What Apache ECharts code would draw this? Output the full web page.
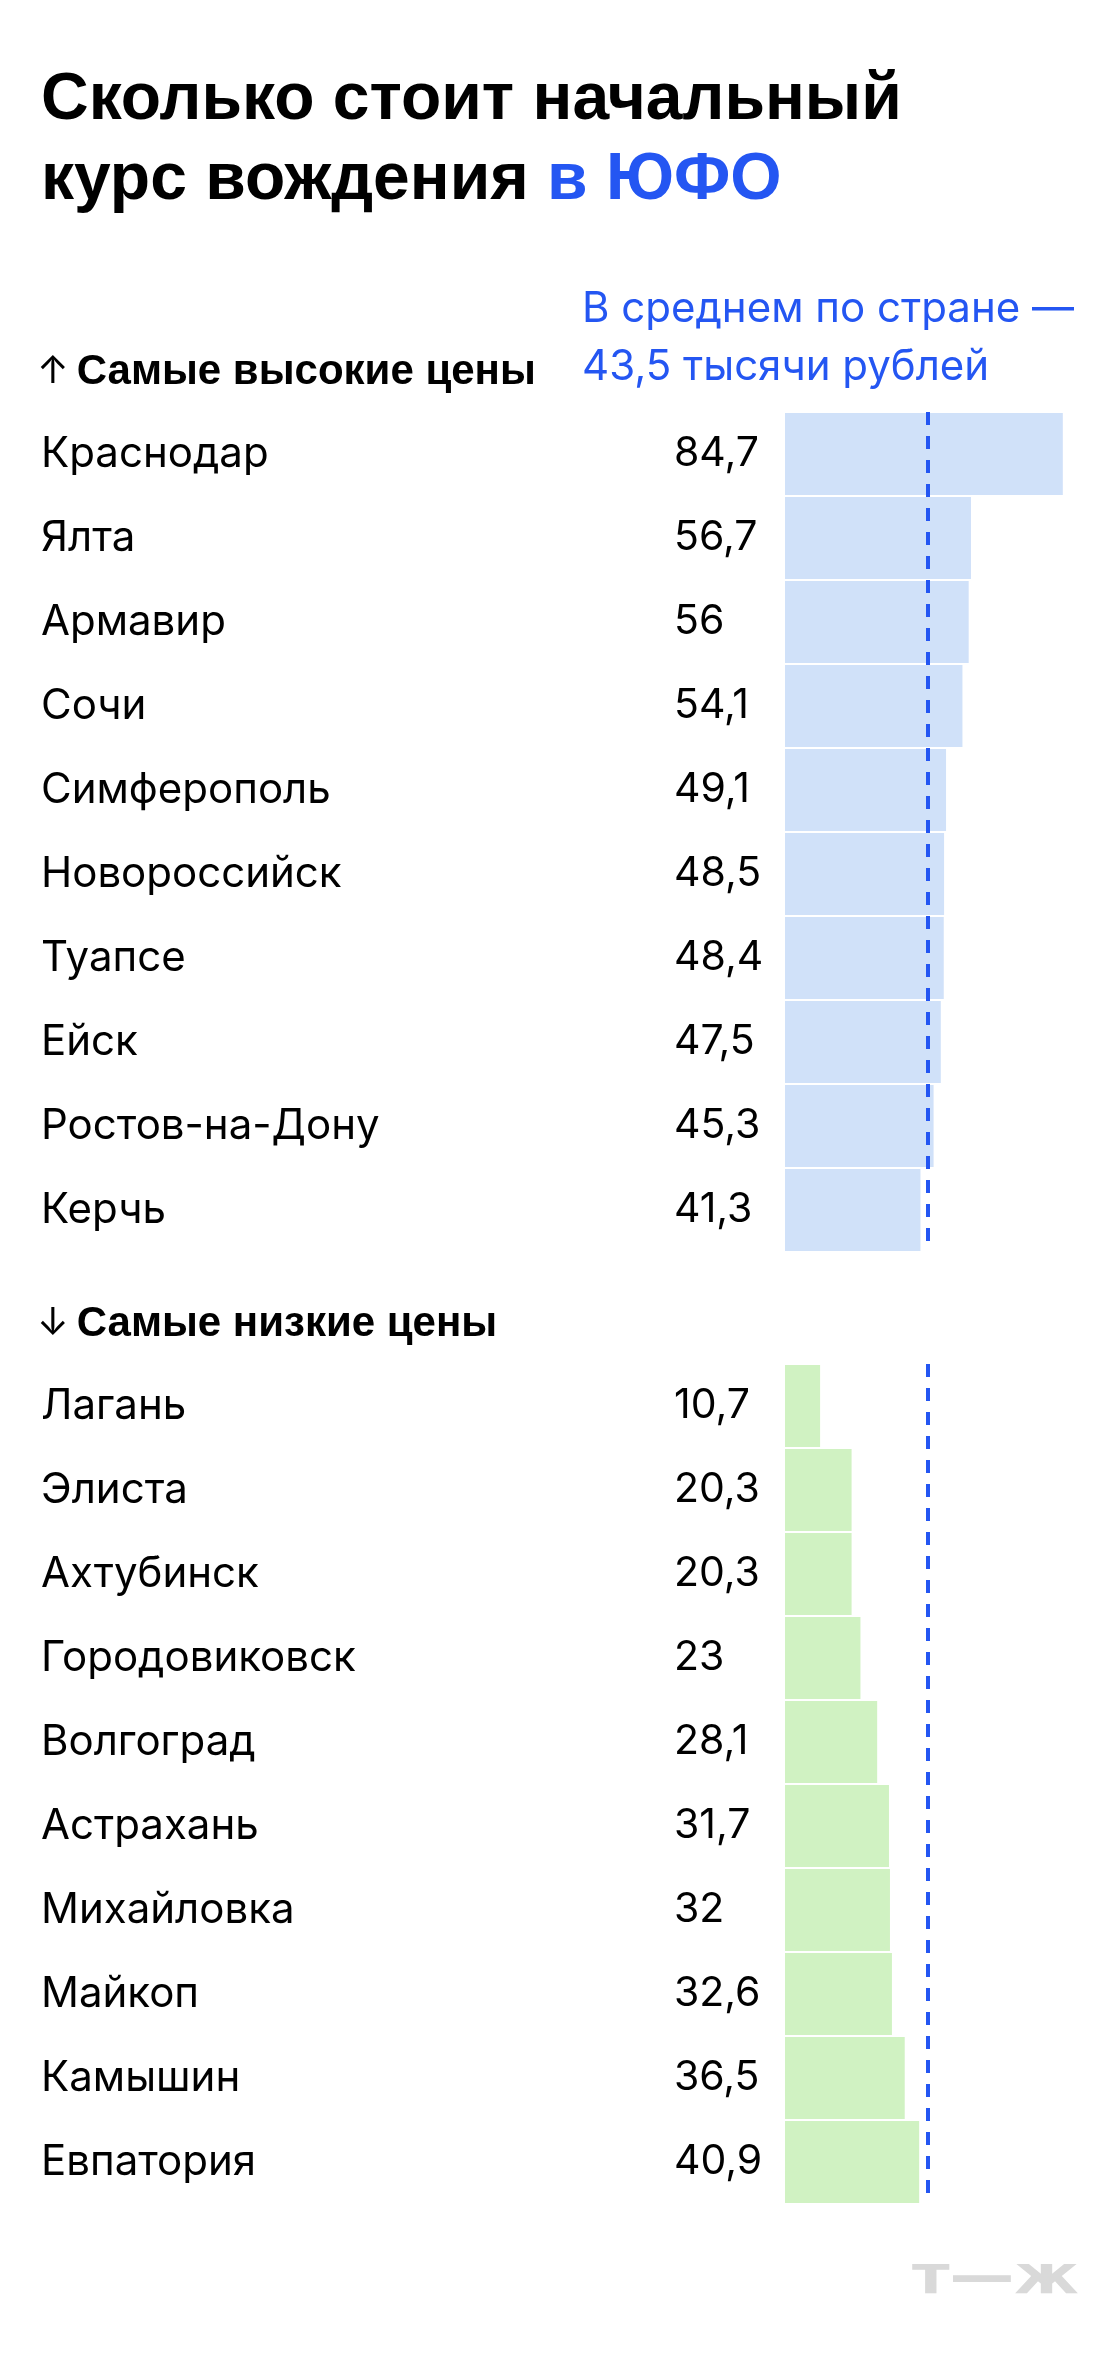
<!DOCTYPE html>
<html>
<head>
<meta charset="utf-8">
<script src="https://cdn.jsdelivr.net/npm/echarts@6/dist/echarts.min.js"></script>
<style>
  html, body { margin: 0; padding: 0; background: #fff; }
  #chart { width: 1120px; height: 2372px; }
</style>
</head>
<body>
<div id="chart"></div>
<script>
// самые высокие цены, тыс. руб.
var highCities = ['Краснодар', 'Ялта', 'Армавир', 'Сочи', 'Симферополь', 'Новороссийск', 'Туапсе', 'Ейск', 'Ростов-на-Дону', 'Керчь'];
var highPrices = [84.7, 56.7, 56, 54.1, 49.1, 48.5, 48.4, 47.5, 45.3, 41.3];
// самые низкие цены
var lowCities = ['Лагань', 'Элиста', 'Ахтубинск', 'Городовиковск', 'Волгоград', 'Астрахань', 'Михайловка', 'Майкоп', 'Камышин', 'Евпатория'];
var lowPrices = [10.7, 20.3, 20.3, 23, 28.1, 31.7, 32, 32.6, 36.5, 40.9];
// в среднем по стране
var countryAvg = 43.5;

var FONT = '"Liberation Sans", Arial, sans-serif';
var BODY = 'Inter, "Liberation Sans", sans-serif';
var BLUE = '#2456f2';

function fmt(v){
	return String(v).replace('.', ',');
}

function yAxisFor(idx, cats){
	return {
		type: 'category',
		gridIndex: idx,
		data: cats,
		inverse: true,
		axisLine: {show: false},
		axisTick: {show: false},
		axisLabel: {
			align: 'left',
			margin: 744,
			fontFamily: BODY,
			fontSize: 42,
			color: '#000'
		}
	};
}

function xAxisFor(idx){
	return {
		type: 'value',
		gridIndex: idx,
		min: 0,
		max: 100,
		show: false
	};
}

function barSeries(idx, values, color){
	return {
		type: 'bar',
		xAxisIndex: idx,
		yAxisIndex: idx,
		data: values,
		barWidth: 82,
		itemStyle: {color: color},
		silent: true,
		label: {
			show: true,
			position: [-111, '50%'],
			align: 'left',
			verticalAlign: 'middle',
			fontFamily: BODY,
			fontSize: 41,
			color: '#000',
			formatter: function(p){ return fmt(p.value); }
		},
		markLine: {
			silent: true,
			symbol: 'none',
			label: {show: false},
			lineStyle: {color: BLUE, width: 4, type: [13, 11]},
			data: [{xAxis: countryAvg}]
		}
	};
}

function header(arrow, txt, cy){
	return {
		type: 'text', left: 37, top: cy - 18,
		style: {
			text: '{r|' + arrow + '}{b|' + txt + '}',
			rich: {
				r: {fontFamily: BODY, fontSize: 38, lineHeight: 52, color: '#000', padding: [0, 8, 0, 0]},
				b: {fontFamily: FONT, fontWeight: 'bold', fontSize: 42, lineHeight: 52, color: '#000'}
			}
		}
	};
}

var chart = echarts.init(document.getElementById('chart'), null, {renderer: 'canvas'});
var option = {
	animation: false,
	backgroundColor: '#fff',
	title: {
		left: 41,
		top: 61,
		padding: 0,
		text: '{a|Сколько стоит начальный}\n{a|курс вождения }{b|в ЮФО}',
		textStyle: {
			rich: {
				a: {fontFamily: FONT, fontWeight: 'bold', fontSize: 66, lineHeight: 80, color: '#000'},
				b: {fontFamily: FONT, fontWeight: 'bold', fontSize: 66, lineHeight: 80, color: BLUE}
			}
		}
	},
	grid: [
		{left: 785, width: 328, top: 412, height: 840},
		{left: 785, width: 328, top: 1364, height: 840}
	],
	xAxis: [xAxisFor(0), xAxisFor(1)],
	yAxis: [yAxisFor(0, highCities), yAxisFor(1, lowCities)],
	series: [
		barSeries(0, highPrices, '#d0e1f9'),
		barSeries(1, lowPrices, '#d0f2c2')
	],
	graphic: [
		header('↑', 'Самые высокие цены', 369),
		header('↓', 'Самые низкие цены', 1321),
		{
			type: 'text', left: 582, top: 280,
			style: {
				text: 'В среднем по стране —\n43,5 тысячи рублей',
				fontFamily: BODY, fontSize: 42, lineHeight: 58, fill: BLUE
			}
		},
		{
			type: 'text', left: 912, top: 2252, scaleX: 1.2,
			style: {
				text: 'т—ж',
				fontFamily: '"DejaVu Sans", sans-serif', fontWeight: 'bold', fontSize: 54, fill: '#d9d9d9'
			}
		}
	]
};
chart.setOption(option);
</script>
</body>
</html>
